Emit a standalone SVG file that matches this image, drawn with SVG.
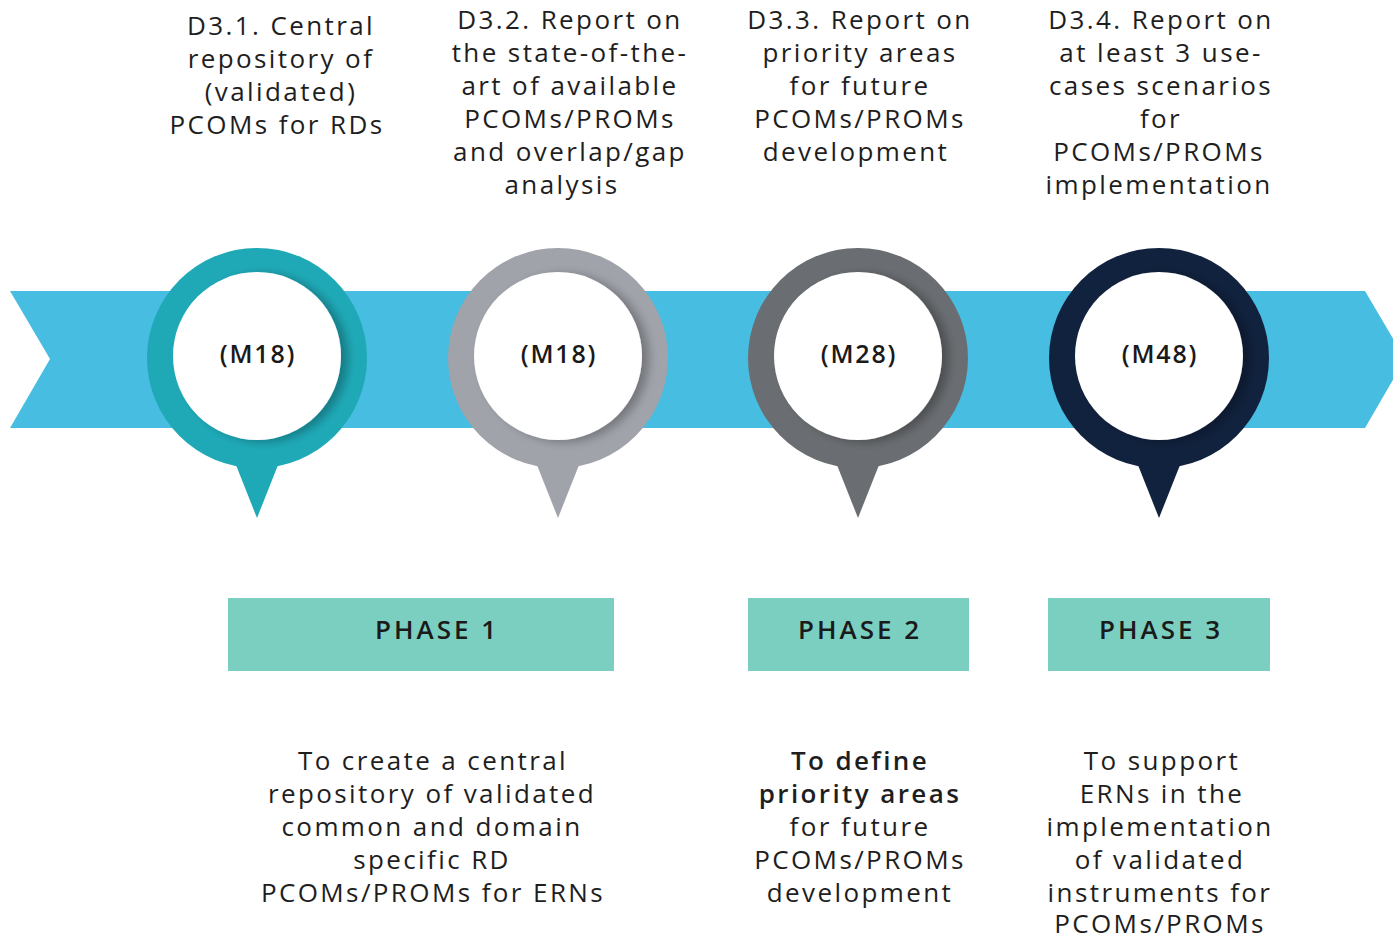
<svg xmlns="http://www.w3.org/2000/svg" width="1393" height="938" viewBox="0 0 1393 938">
<style>
.t{font-family:"Open Sans","Noto Sans","Liberation Sans",sans-serif;font-size:26px;fill:#1e1e1e;text-anchor:middle;letter-spacing:2.4px}
.b{font-weight:600}
.m{font-family:"Open Sans","Noto Sans","Liberation Sans",sans-serif;font-size:25px;font-weight:600;fill:#1a1a1a;text-anchor:middle;letter-spacing:1.8px}
.ph{font-family:"Open Sans","Noto Sans","Liberation Sans",sans-serif;font-size:26px;font-weight:600;fill:#1a1a1a;text-anchor:middle;letter-spacing:3px}
.box{fill:#7ACFC1}
.inner{fill:#ffffff}
</style>
<defs>
<filter id="sh" x="-30%" y="-30%" width="160%" height="160%">
<feGaussianBlur in="SourceAlpha" stdDeviation="5"/>
<feOffset dx="7" dy="2" result="o"/>
<feComponentTransfer><feFuncA type="linear" slope="0.28"/></feComponentTransfer>
<feMerge><feMergeNode/><feMergeNode in="SourceGraphic"/></feMerge>
</filter>
</defs>
<rect width="1393" height="938" fill="#ffffff"/>
<g id="band">
<polygon points="10,291 1365,291 1405,359 1365,428 10,428 50,359" fill="#47BDE1"/>
</g>
<g id="m1">
<circle cx="257" cy="358" r="110" fill="#1FA9B7"/>
<polygon points="234,460 280,460 257,518" fill="#1FA9B7"/>
<circle cx="257" cy="356" r="84" class="inner" filter="url(#sh)"/>
<text class="m" x="258" y="363">(M18)</text>
</g>
<g id="m2">
<circle cx="558" cy="358" r="110" fill="#A0A3AA"/>
<polygon points="535,460 581,460 558,518" fill="#A0A3AA"/>
<circle cx="558" cy="356" r="84" class="inner" filter="url(#sh)"/>
<text class="m" x="559" y="363">(M18)</text>
</g>
<g id="m3">
<circle cx="858" cy="358" r="110" fill="#6A6D71"/>
<polygon points="835,460 881,460 858,518" fill="#6A6D71"/>
<circle cx="858" cy="356" r="84" class="inner" filter="url(#sh)"/>
<text class="m" x="859" y="363">(M28)</text>
</g>
<g id="m4">
<circle cx="1159" cy="358" r="110" fill="#11223E"/>
<polygon points="1136,460 1182,460 1159,518" fill="#11223E"/>
<circle cx="1159" cy="356" r="84" class="inner" filter="url(#sh)"/>
<text class="m" x="1160" y="363">(M48)</text>
</g>
<g id="d31">
<text class="t" x="281" y="35">D3.1. Central</text>
<text class="t" x="281" y="68">repository of</text>
<text class="t" x="281" y="101">(validated)</text>
<text class="t" x="277" y="134">PCOMs for RDs</text>
</g>
<g id="d32">
<text class="t" x="570" y="29">D3.2. Report on</text>
<text class="t" x="570" y="62">the state-of-the-</text>
<text class="t" x="570" y="95">art of available</text>
<text class="t" x="570" y="128">PCOMs/PROMs</text>
<text class="t" x="570" y="161">and overlap/gap</text>
<text class="t" x="562" y="194">analysis</text>
</g>
<g id="d33">
<text class="t" x="860" y="29">D3.3. Report on</text>
<text class="t" x="860" y="62">priority areas</text>
<text class="t" x="860" y="95">for future</text>
<text class="t" x="860" y="128">PCOMs/PROMs</text>
<text class="t" x="856" y="161">development</text>
</g>
<g id="d34">
<text class="t" x="1161" y="29">D3.4. Report on</text>
<text class="t" x="1161" y="62">at least 3 use-</text>
<text class="t" x="1161" y="95">cases scenarios</text>
<text class="t" x="1161" y="128">for</text>
<text class="t" x="1159" y="161">PCOMs/PROMs</text>
<text class="t" x="1159" y="194">implementation</text>
</g>
<g id="phase1">
<rect class="box" x="228" y="598" width="386" height="73"/>
<text class="ph" x="437" y="639">PHASE 1</text>
</g>
<g id="phase2">
<rect class="box" x="748" y="598" width="221" height="73"/>
<text class="ph" x="860" y="639">PHASE 2</text>
</g>
<g id="phase3">
<rect class="box" x="1048" y="598" width="222" height="73"/>
<text class="ph" x="1161" y="639">PHASE 3</text>
</g>
<g id="desc1">
<text class="t" x="433" y="770">To create a central</text>
<text class="t" x="432" y="803">repository of validated</text>
<text class="t" x="432" y="836">common and domain</text>
<text class="t" x="432" y="869">specific RD</text>
<text class="t" x="433" y="902">PCOMs/PROMs for ERNs</text>
</g>
<g id="desc2">
<text class="t b" x="860" y="770">To define</text>
<text class="t b" x="860" y="803">priority areas</text>
<text class="t" x="860" y="836">for future</text>
<text class="t" x="860" y="869">PCOMs/PROMs</text>
<text class="t" x="860" y="902">development</text>
</g>
<g id="desc3">
<text class="t" x="1162" y="770">To support</text>
<text class="t" x="1162" y="803">ERNs in the</text>
<text class="t" x="1160" y="836">implementation</text>
<text class="t" x="1160" y="869">of validated</text>
<text class="t" x="1160" y="902">instruments for</text>
<text class="t" x="1160" y="933">PCOMs/PROMs</text>
</g>
</svg>
